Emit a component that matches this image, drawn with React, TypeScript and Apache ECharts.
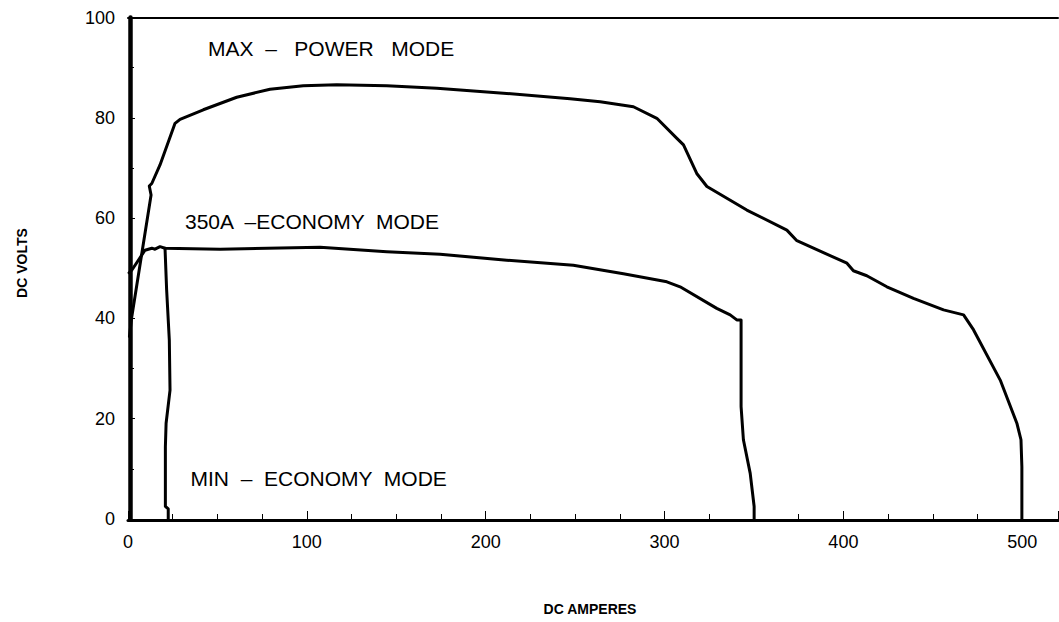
import React, { useEffect, useRef } from "react";
import * as echarts from "echarts";

// [DC amperes, DC volts]
const maxPowerCurve: [number, number][] = [
  [0.8, 36.4], [2.1, 40.3], [12.9, 64.6], [11.9, 66.4], [13.3, 66.9], [17.9, 70.6],
  [26.3, 78.9], [29.1, 79.7], [42.1, 81.6], [60.8, 84.1], [79.4, 85.7], [98, 86.4],
  [116.7, 86.6], [144.7, 86.4], [172.7, 85.9], [209.9, 84.9], [247.2, 83.8], [264, 83.2],
  [282.6, 82.2], [295.7, 79.9], [306.9, 75.9], [310.6, 74.6], [318, 68.9], [323.7, 66.3],
  [346, 61.6], [368.4, 57.6], [374, 55.5], [402, 51], [405.6, 49.5], [413.1, 48.5],
  [424.3, 46.3], [430.8, 45.3], [439.2, 44], [456, 41.7], [467.2, 40.7], [472.8, 37.7],
  [487.7, 27.7], [497, 19.1], [499.3, 15.8], [499.8, 10.4], [499.8, 0],
];

const economy350Curve: [number, number][] = [
  [0.6, 49.1], [2.1, 49.6], [9.5, 53.6], [13.3, 54], [15.1, 53.8], [17.9, 54.3],
  [20.7, 54], [51.5, 53.8], [107.4, 54.2], [144.7, 53.3], [174.5, 52.8], [211.8, 51.6],
  [249, 50.6], [277, 48.9], [301.3, 47.3], [308.7, 46.3], [329.2, 42], [336.7, 40.7],
  [340.4, 39.7], [342.8, 39.7], [342.8, 22.4], [344.1, 15.8], [347.9, 9.1], [350.1, 2.5],
  [350.1, 0],
];

const minEconomyCurve: [number, number][] = [
  [20.7, 54], [21.6, 45.7], [23.1, 35.7], [23.5, 25.7], [21.3, 19.1], [20.9, 14.4],
  [20.9, 2.5], [22.5, 2], [22.5, 0],
];

const curveLabels = ["MAX  –   POWER   MODE", "350A  –ECONOMY  MODE", "MIN  –  ECONOMY  MODE"];
const xAxisTitle = "DC AMPERES";
const yAxisTitle = "DC VOLTS";

const AMP_MIN = 0;
const AMP_MAX = 520;
const AMP_STEP = 100;
const VOLT_MIN = 0;
const VOLT_MAX = 100;
const VOLT_STEP = 20;

const FONT = "'Liberation Sans', Arial, Helvetica, sans-serif";

export default function App() {
  const ref = useRef<HTMLDivElement>(null);

  useEffect(() => {
    if (!ref.current) return;
    const chart = echarts.init(ref.current, null, { renderer: "svg" });
    const lineSeries = (name: string, data: [number, number][]) => ({
      name,
      type: "line",
      data,
      xAxisIndex: 0,
      yAxisIndex: 0,
      showSymbol: false,
      symbol: "none",
      smooth: false,
      lineStyle: { color: "#000", width: 3, join: "round", cap: "round" },
      z: 3,
    });
    chart.setOption({
      animation: false,
      backgroundColor: "#fff",
      grid: { left: 128, top: 17.5, width: 930, height: 501.5, containLabel: false },
      xAxis: [
        {
          type: "value",
          min: AMP_MIN,
          max: AMP_MAX,
          interval: AMP_STEP,
          position: "bottom",
          offset: 1,
          axisLine: { show: true, onZero: false, lineStyle: { color: "#000", width: 3 } },
          axisTick: { show: true, inside: true, length: 9, lineStyle: { color: "#000", width: 1 } },
          minorTick: { show: true, splitNumber: 4, length: 6, lineStyle: { color: "#000", width: 1 } },
          axisLabel: {
            color: "#000",
            fontFamily: FONT,
            fontSize: 18,
            margin: 13,
            showMaxLabel: false,
            formatter: (v: number) => (v % AMP_STEP === 0 && v <= 500 ? String(v) : ""),
          },
          splitLine: { show: false },
        },
        {
          type: "value",
          min: AMP_MIN,
          max: AMP_MAX,
          position: "top",
          axisLine: { show: true, onZero: false, lineStyle: { color: "#000", width: 2 } },
          axisTick: { show: false },
          axisLabel: { show: false },
          splitLine: { show: false },
        },
      ],
      yAxis: {
        type: "value",
        min: VOLT_MIN,
        max: VOLT_MAX,
        interval: VOLT_STEP,
        offset: -2,
        axisLine: { show: true, onZero: false, lineStyle: { color: "#000", width: 4.5 } },
        axisTick: { show: true, inside: true, length: 5, lineStyle: { color: "#000", width: 1 } },
        minorTick: { show: true, splitNumber: 2, length: 4, lineStyle: { color: "#000", width: 1 } },
        axisLabel: { color: "#000", fontFamily: FONT, fontSize: 18, margin: 15 },
        splitLine: { show: false },
      },
      series: [
        lineSeries("MAX – POWER MODE", maxPowerCurve),
        lineSeries("350A –ECONOMY MODE", economy350Curve),
        lineSeries("MIN – ECONOMY MODE", minEconomyCurve),
      ],
      graphic: [
        {
          type: "text",
          x: 208,
          y: 48,
          style: { text: curveLabels[0], font: `21px ${FONT}`, fill: "#000", textAlign: "left", textVerticalAlign: "middle" },
        },
        {
          type: "text",
          x: 185,
          y: 221.5,
          style: { text: curveLabels[1], font: `21px ${FONT}`, fill: "#000", textAlign: "left", textVerticalAlign: "middle" },
        },
        {
          type: "text",
          x: 190.5,
          y: 478.7,
          style: { text: curveLabels[2], font: `21px ${FONT}`, fill: "#000", textAlign: "left", textVerticalAlign: "middle" },
        },
        {
          type: "text",
          x: 590,
          y: 609,
          style: { text: xAxisTitle, font: `bold 14px ${FONT}`, fill: "#000", textAlign: "center", textVerticalAlign: "middle" },
        },
        {
          type: "text",
          x: 22,
          y: 263,
          rotation: Math.PI / 2,
          style: { text: yAxisTitle, font: `bold 14px ${FONT}`, fill: "#000", textAlign: "center", textVerticalAlign: "middle" },
        },
      ],
    });
    return () => chart.dispose();
  }, []);

  return (
    <div
      ref={ref}
      style={{ position: "fixed", left: 0, top: 0, width: 1059, height: 622, background: "#fff" }}
    />
  );
}
